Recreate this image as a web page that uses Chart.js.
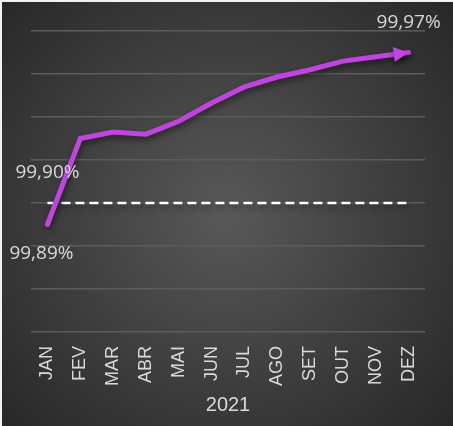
<!DOCTYPE html>
<html>
<head>
<meta charset="utf-8">
<script src="https://cdn.jsdelivr.net/npm/chart.js@4/dist/chart.umd.min.js"></script>
<style>
  html, body { margin: 0; padding: 0; background: #262626; }
  canvas { display: block; }
</style>
</head>
<body>
<canvas id="chart" width="453" height="426"></canvas>
<script>
const months = ["JAN", "FEV", "MAR", "ABR", "MAI", "JUN", "JUL", "AGO", "SET", "OUT", "NOV", "DEZ"];
const availability = [99.890, 99.930, 99.933, 99.932, 99.938, 99.9465, 99.954, 99.9586, 99.962, 99.966, 99.968, 99.970];
const target = [99.90, 99.90, 99.90, 99.90, 99.90, 99.90, 99.90, 99.90, 99.90, 99.90, 99.90, 99.90];
const yMin = 99.84;
const yMax = 99.98;
const yStep = 0.02;
const axisTitle = "2021";

const PURPLE = "#c045e0";
const TEXT = "#d9d9d9";

function formatPct(value) {
  return value.toFixed(2).replace(".", ",") + "%";
}

const backgroundPlugin = {
  id: "background",
  beforeDraw(chart) {
    const { ctx, width, height } = chart;
    const grad = ctx.createRadialGradient(width / 2, height / 2, 10, width / 2, height / 2, width * 0.72);
    grad.addColorStop(0, "#575757");
    grad.addColorStop(1, "#252525");
    ctx.save();
    ctx.fillStyle = grad;
    ctx.fillRect(0, 0, width, height);
    ctx.fillStyle = "#f2f2f2";
    ctx.fillRect(0, 0, width, 2);
    ctx.fillRect(0, 0, 2, height);
    ctx.restore();
  },
};

const shadowPlugin = {
  id: "lineShadow",
  beforeDatasetDraw(chart) {
    const ctx = chart.ctx;
    ctx.save();
    ctx.shadowColor = "rgba(0, 0, 0, 0.55)";
    ctx.shadowBlur = 6;
    ctx.shadowOffsetX = 1;
    ctx.shadowOffsetY = 3;
  },
  afterDatasetDraw(chart, args) {
    const ctx = chart.ctx;
    if (args.index === 0) {
      // arrow head at the last point
      const pts = chart.getDatasetMeta(0).data;
      const tip = pts[pts.length - 1];
      const prev = pts[pts.length - 2];
      const ang = Math.atan2(tip.y - prev.y, tip.x - prev.x);
      const len = 15, half = 7.5;
      ctx.translate(tip.x, tip.y);
      ctx.rotate(ang);
      ctx.beginPath();
      ctx.moveTo(0, 0);
      ctx.lineTo(-len, -half);
      ctx.lineTo(-len, half);
      ctx.closePath();
      ctx.fillStyle = PURPLE;
      ctx.fill();
    }
    ctx.restore();
  },
};

const labelPlugin = {
  id: "valueLabels",
  afterDatasetsDraw(chart) {
    const { ctx, scales } = chart;
    const x = scales.x, y = scales.y;
    const last = availability.length - 1;
    const items = [
      { text: formatPct(availability[0]), x: x.getPixelForValue(0) - 6, y: y.getPixelForValue(availability[0]) + 29 },
      { text: formatPct(target[0]), x: x.getPixelForValue(0), y: y.getPixelForValue(target[0]) - 30 },
      { text: formatPct(availability[last]), x: x.getPixelForValue(last), y: y.getPixelForValue(availability[last]) - 30 },
    ];
    ctx.save();
    ctx.font = '19px "Open Sans", sans-serif';
    ctx.fillStyle = TEXT;
    ctx.textAlign = "center";
    ctx.textBaseline = "middle";
    items.forEach((it) => ctx.fillText(it.text, it.x, it.y));
    ctx.restore();
  },
};

new Chart(document.getElementById("chart").getContext("2d"), {
  type: "line",
  data: {
    labels: months,
    datasets: [
      {
        label: "Disponibilidade",
        data: availability,
        borderColor: PURPLE,
        borderWidth: 5,
        borderCapStyle: "round",
        borderJoinStyle: "miter",
        pointRadius: 0,
        tension: 0,
        fill: false,
      },
      {
        label: "Meta",
        data: target,
        borderColor: "#ffffff",
        borderWidth: 2.5,
        borderDash: [9, 5],
        pointRadius: 0,
        tension: 0,
        fill: false,
      },
    ],
  },
  options: {
    responsive: false,
    devicePixelRatio: 1,
    animation: false,
    layout: { padding: { left: 31, right: 28, top: 31, bottom: 0 } },
    plugins: {
      legend: { display: false },
      tooltip: { enabled: false },
    },
    scales: {
      x: {
        offset: true,
        grid: { display: false, drawTicks: false },
        border: { display: false },
        ticks: {
          color: TEXT,
          font: { family: '"Liberation Sans", Arial, sans-serif', size: 18 },
          minRotation: 90,
          maxRotation: 90,
          padding: 14,
        },
        title: {
          display: true,
          text: axisTitle,
          color: TEXT,
          font: { family: '"Liberation Sans", Arial, sans-serif', size: 20 },
          padding: { top: -7, bottom: 9 },
        },
      },
      y: {
        min: yMin,
        max: yMax,
        grid: { color: "#5c5c5c", lineWidth: 1.5, drawTicks: false },
        border: { display: false },
        ticks: { display: false, stepSize: yStep },
        afterFit(scale) { scale.width = 0; },
      },
    },
  },
  plugins: [backgroundPlugin, shadowPlugin, labelPlugin],
});
</script>
</body>
</html>
